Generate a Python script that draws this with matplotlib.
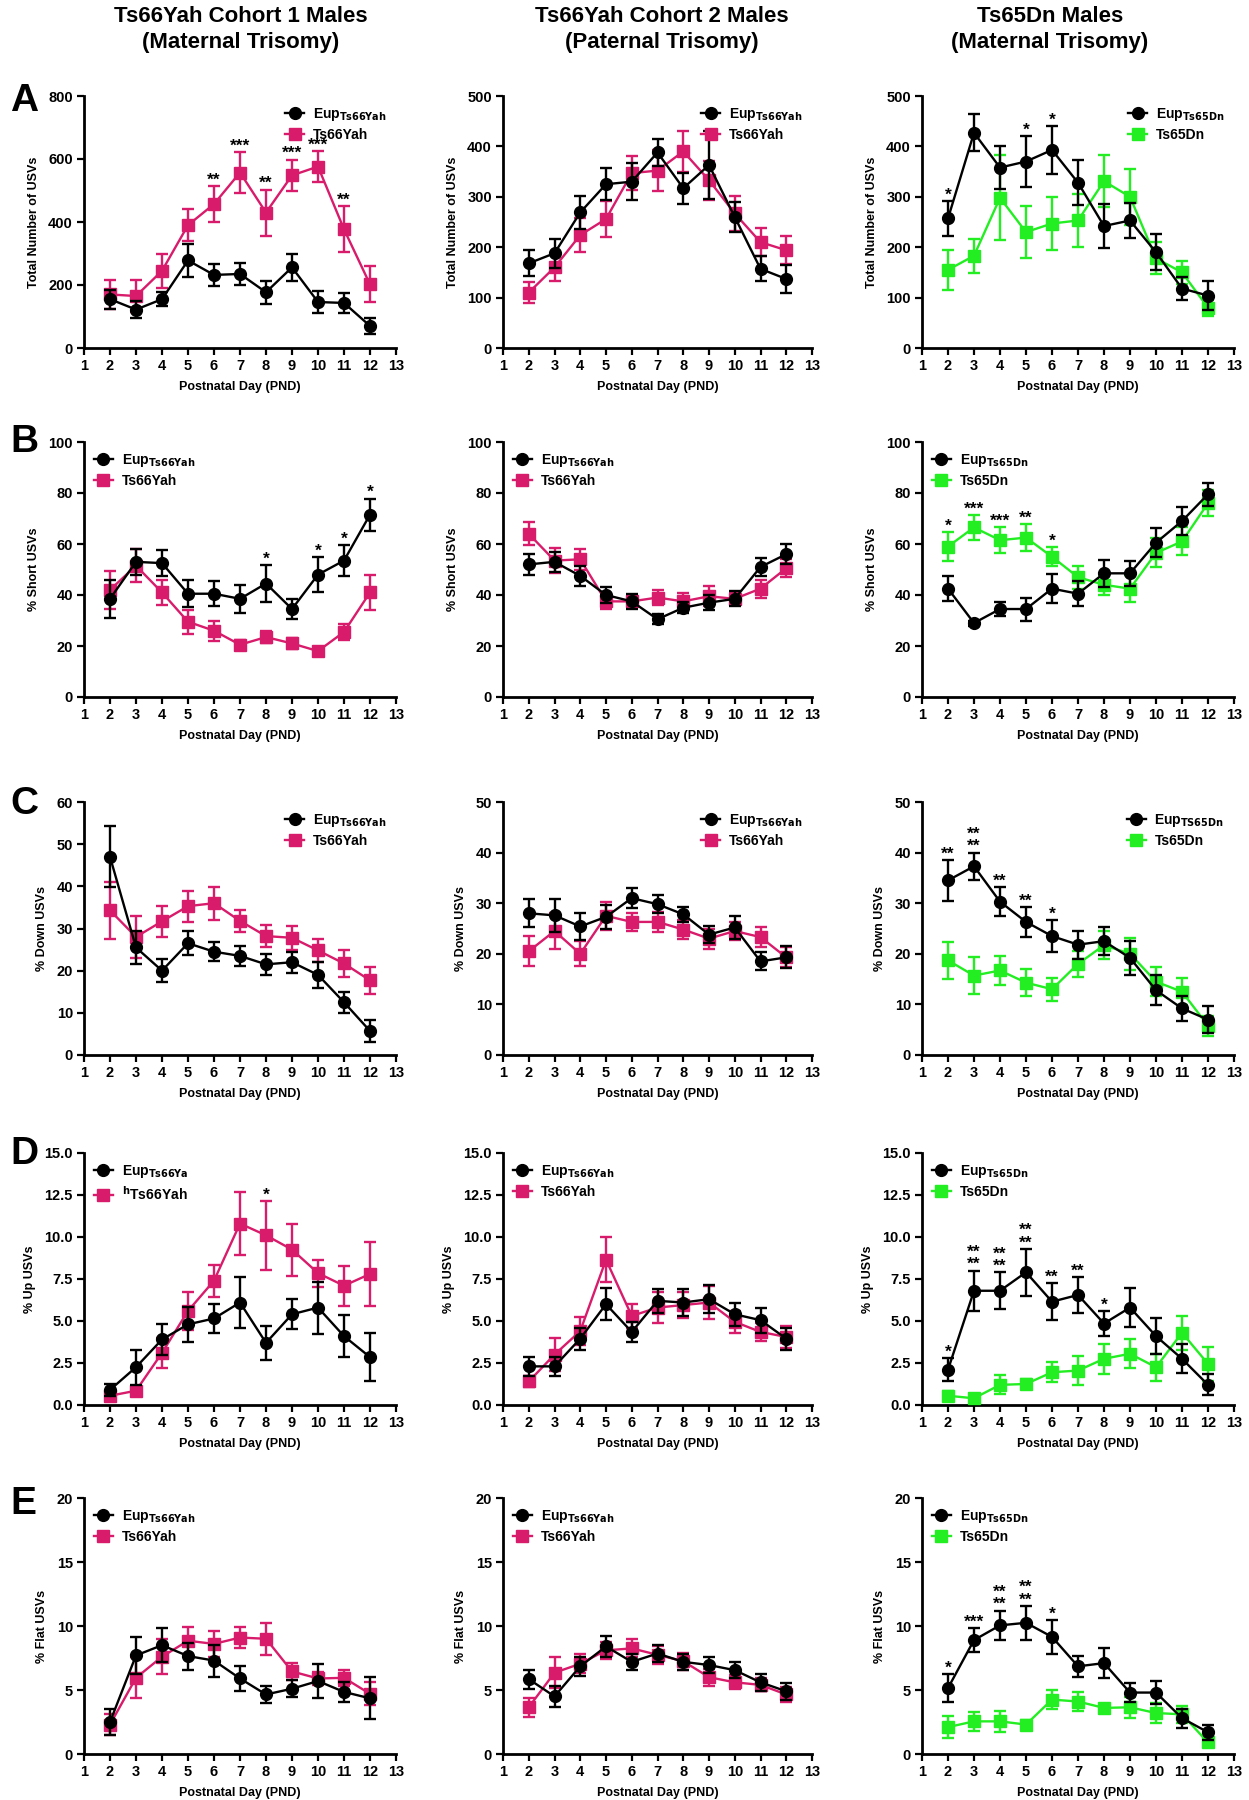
import matplotlib
matplotlib.use('Agg')
import matplotlib.pyplot as plt
from matplotlib.lines import Line2D
from matplotlib.ticker import FormatStrFormatter

plt.rcParams['font.family'] = ['Liberation Sans Narrow', 'Liberation Sans', 'DejaVu Sans']
plt.rcParams['font.weight'] = 'bold'
plt.rcParams['mathtext.fontset'] = 'custom'
plt.rcParams['mathtext.rm'] = 'Liberation Sans Narrow:bold'
plt.rcParams['mathtext.bf'] = 'Liberation Sans Narrow:bold'
plt.rcParams['mathtext.it'] = 'Liberation Sans Narrow:bold'

# ---------------- data ----------------
days = [2, 3, 4, 5, 6, 7, 8, 9, 10, 11, 12]
xticks = list(range(1, 14))

col_titles = ["Ts66Yah Cohort 1 Males\n(Maternal Trisomy)",
              "Ts66Yah Cohort 2 Males\n(Paternal Trisomy)",
              "Ts65Dn Males\n(Maternal Trisomy)"]
row_letters = ["A", "B", "C", "D", "E"]
ylabels = ["Total Number of USVs", "% Short USVs", "% Down USVs", "% Up USVs", "% Flat USVs"]
xlabel = "Postnatal Day (PND)"

# Row A: total number of USVs
a1_eup = [155, 122, 155, 278, 232, 235, 177, 256, 146, 143, 70]
a1_eup_err = [30, 27, 23, 52, 34, 35, 37, 43, 34, 33, 26]
a1_ts = [170, 165, 245, 390, 457, 557, 430, 548, 576, 377, 202]
a1_ts_err = [47, 52, 55, 50, 58, 65, 73, 50, 48, 73, 57]
a1_star_days = [6, 7, 8, 9, 10, 11]
a1_star_text = ["**", "***", "**", "***", "***", "**"]

a2_eup = [168, 188, 269, 325, 330, 388, 317, 363, 260, 157, 137]
a2_eup_err = [26, 29, 33, 32, 37, 26, 31, 68, 30, 25, 27]
a2_ts = [110, 160, 224, 256, 347, 352, 390, 333, 267, 210, 194]
a2_ts_err = [21, 28, 33, 36, 33, 40, 41, 39, 34, 28, 28]

a3_eup = [257, 427, 358, 370, 393, 328, 242, 253, 190, 118, 104]
a3_eup_err = [35, 37, 43, 50, 48, 45, 44, 34, 36, 22, 29]
a3_ts = [155, 183, 298, 230, 247, 253, 331, 300, 178, 150, 80]
a3_ts_err = [39, 34, 84, 52, 52, 52, 52, 55, 32, 23, 16]
a3_star_days = [2, 5, 6]
a3_star_text = ["*", "*", "*"]

# Row B: % short USVs
b1_eup = [38.5, 53, 52.5, 40.5, 40.5, 38.5, 44.5, 34.5, 48, 53.5, 71.5]
b1_eup_err = [7.5, 5, 5, 5.3, 4.8, 5.5, 7.3, 4, 7, 6, 6.3]
b1_ts = [42, 51.5, 41, 29.5, 26, 20.5, 23.5, 21, 18, 25.5, 41]
b1_ts_err = [7.3, 6.5, 5, 4.8, 4, 2, 2.5, 2, 1.5, 3.3, 6.8]
b1_star_days = [8, 10, 11, 12]
b1_star_text = ["*", "*", "*", "*"]

b2_eup = [52, 53, 47.5, 40, 37.5, 30.5, 35, 37, 38.5, 51, 56]
b2_eup_err = [4, 4, 4, 3.2, 3, 2, 2.2, 3, 3, 3.5, 4]
b2_ts = [64, 53.5, 54, 37.5, 37.5, 39, 37.5, 39.5, 38.5, 42.5, 50.5]
b2_ts_err = [4.5, 4.8, 4, 3, 2.5, 2.8, 3.2, 4, 2.5, 3.5, 3.5]

b3_eup = [42.5, 29, 34.5, 34.5, 42.5, 40.5, 48.5, 48.5, 60.5, 69, 79.5]
b3_eup_err = [5, 1, 2.8, 4.5, 5.7, 5, 5.3, 5, 5.7, 5.5, 4.5]
b3_ts = [59, 66.5, 61.5, 62.5, 55, 47, 44, 42.5, 56.5, 61, 76]
b3_ts_err = [5.7, 5, 5, 5.2, 3.8, 4.5, 4, 5.2, 5.7, 5.5, 5]
b3_star_days = [2, 3, 4, 5, 6]
b3_star_text = ["*", "***", "***", "**", "*"]

# Row C: % down USVs
c1_eup = [47, 25.5, 20, 26.5, 24.5, 23.5, 21.5, 22, 19, 12.5, 5.7]
c1_eup_err = [7.2, 4, 2.8, 2.8, 2.3, 2.3, 2.5, 2.5, 3, 2.5, 2.5]
c1_ts = [34.3, 28, 31.7, 35.3, 36, 31.8, 28.2, 27.8, 24.8, 21.7, 17.7]
c1_ts_err = [6.8, 5, 3.7, 3.7, 3.9, 2.7, 2.7, 2.8, 2.8, 3.2, 3.2]

c2_eup = [28, 27.6, 25.4, 27.3, 31, 29.8, 27.8, 23.8, 25.2, 18.5, 19.3]
c2_eup_err = [2.8, 3.3, 2.6, 2.3, 2, 1.8, 1.5, 1.6, 2.2, 1.8, 2.2]
c2_ts = [20.5, 24.5, 20, 27.5, 26.3, 26.3, 24.8, 23, 24.5, 23.3, 19.3]
c2_ts_err = [3, 3.5, 2.5, 2.8, 1.8, 2, 1.8, 2, 1.8, 2, 2]

c3_eup = [34.5, 37.3, 30.3, 26.3, 23.5, 21.8, 22.5, 19.2, 12.8, 9.2, 7]
c3_eup_err = [4, 2.7, 2.9, 2.9, 3.2, 2.8, 2.8, 3.4, 3, 2.5, 2.7]
c3_ts = [18.7, 15.7, 16.7, 14.3, 13, 18, 21.7, 20, 14.5, 12.5, 5.8]
c3_ts_err = [3.6, 3.6, 2.9, 2.6, 2.3, 2.5, 2.8, 3.2, 2.9, 2.7, 2]
c3_star_days = [2, 3, 4, 5, 6]
c3_star_text = ["**", "**\n**", "**", "**", "*"]

# Row D: % up USVs
d1_eup = [0.9, 2.25, 3.9, 4.8, 5.15, 6.1, 3.7, 5.4, 5.8, 4.1, 2.85]
d1_eup_err = [0.35, 1.05, 0.9, 1.05, 0.85, 1.5, 1.0, 0.9, 1.55, 1.25, 1.45]
d1_ts = [0.55, 0.85, 3.1, 5.6, 7.4, 10.8, 10.1, 9.25, 7.85, 7.1, 7.8]
d1_ts_err = [0.18, 0.25, 0.9, 1.15, 0.95, 1.9, 2.05, 1.55, 0.8, 1.2, 1.9]
d1_star_days = [8]
d1_star_text = ["*"]

d2_eup = [2.3, 2.3, 3.95, 6.0, 4.35, 6.2, 6.1, 6.3, 5.4, 5.05, 3.95]
d2_eup_err = [0.55, 0.55, 0.65, 0.95, 0.58, 0.7, 0.8, 0.85, 0.7, 0.75, 0.65]
d2_ts = [1.4, 3.0, 4.4, 8.65, 5.3, 5.8, 5.95, 6.1, 4.95, 4.35, 4.05]
d2_ts_err = [0.3, 1.0, 0.83, 1.35, 0.73, 0.9, 0.75, 1.0, 0.65, 0.55, 0.65]

d3_eup = [2.1, 6.8, 6.8, 7.9, 6.15, 6.55, 4.85, 5.8, 4.1, 2.75, 1.2]
d3_eup_err = [0.67, 1.2, 1.1, 1.4, 1.1, 1.05, 0.75, 1.17, 1.05, 0.87, 0.62]
d3_ts = [0.55, 0.4, 1.2, 1.25, 1.95, 2.05, 2.75, 3.05, 2.25, 4.3, 2.45]
d3_ts_err = [0.28, 0.25, 0.57, 0.3, 0.6, 0.85, 0.9, 0.87, 0.8, 1.0, 1.0]
d3_star_days = [2, 3, 4, 5, 6, 7, 8]
d3_star_text = ["*", "**\n**", "**\n**", "**\n**", "**", "**", "*"]

# Row E: % flat USVs
e1_eup = [2.5, 7.7, 8.5, 7.65, 7.3, 5.9, 4.65, 5.1, 5.7, 4.85, 4.35]
e1_eup_err = [1.05, 1.45, 1.35, 1.05, 1.25, 1.0, 0.7, 0.65, 1.3, 0.8, 1.65]
e1_ts = [2.3, 5.95, 7.6, 8.85, 8.6, 9.1, 9.0, 6.45, 5.9, 5.95, 4.7]
e1_ts_err = [0.8, 1.6, 1.35, 1.05, 1.0, 0.83, 1.25, 0.65, 0.53, 0.65, 0.9]

e2_eup = [5.85, 4.5, 6.85, 8.4, 7.2, 7.85, 7.2, 6.95, 6.55, 5.6, 4.9]
e2_eup_err = [0.75, 0.8, 0.75, 0.85, 0.65, 0.65, 0.6, 0.65, 0.65, 0.67, 0.65]
e2_ts = [3.65, 6.35, 7.05, 8.1, 8.25, 7.75, 7.25, 6.0, 5.6, 5.4, 4.65]
e2_ts_err = [0.75, 1.2, 0.75, 0.65, 0.7, 0.7, 0.65, 0.65, 0.55, 0.5, 0.55]

e3_eup = [5.15, 8.9, 10.05, 10.25, 9.15, 6.85, 7.1, 4.8, 4.8, 2.8, 1.7]
e3_eup_err = [1.07, 0.95, 1.15, 1.32, 1.32, 0.8, 1.15, 0.75, 0.88, 0.75, 0.57]
e3_ts = [2.1, 2.55, 2.55, 2.3, 4.25, 4.1, 3.6, 3.65, 3.2, 3.1, 0.9]
e3_ts_err = [0.83, 0.77, 0.83, 0.35, 0.72, 0.72, 0.25, 0.8, 0.75, 0.65, 0.23]
e3_star_days = [2, 3, 4, 5, 6]
e3_star_text = ["*", "***", "**\n**", "**\n**", "*"]

yticks_a1 = [0, 200, 400, 600, 800]
yticks_a23 = [0, 100, 200, 300, 400, 500]
yticks_b = [0, 20, 40, 60, 80, 100]
yticks_c1 = [0, 10, 20, 30, 40, 50, 60]
yticks_c23 = [0, 10, 20, 30, 40, 50]
yticks_d = [0, 2.5, 5.0, 7.5, 10.0, 12.5, 15.0]
yticks_e = [0, 5, 10, 15, 20]

# ---------------- styling ----------------
MAGENTA = '#D81B6A'
GREEN = '#22EE22'
W, H = 1249, 1800

fig = plt.figure(figsize=(W / 100, H / 100), dpi=100)

col_px = [(84, 312), (503, 309), (922, 312)]
row_px = [(96, 348), (442, 697), (802, 1055), (1153, 1405), (1498, 1754)]


def make_ax(r, c):
    l, w = col_px[c]
    t, b = row_px[r]
    return fig.add_axes([l / W, 1 - b / H, w / W, (b - t) / H])


def panel(ax, eup, eup_err, ts, ts_err, tcolor, yticks, ylabel, eup_label, ts_label,
          legend_loc, star_days=None, star_text=None, yfmt=None):
    ax.errorbar(days, ts, yerr=ts_err, color=tcolor, marker='s', ms=8, lw=1.7,
                elinewidth=1.7, capsize=4.5, capthick=1.7, zorder=3, clip_on=False)
    ax.errorbar(days, eup, yerr=eup_err, color='black', marker='o', ms=8.5, lw=1.7,
                elinewidth=1.7, capsize=4.5, capthick=1.7, zorder=4, clip_on=False)
    ax.set_xlim(1, 13)
    ax.set_ylim(yticks[0], yticks[-1])
    ax.set_xticks(xticks)
    ax.set_yticks(yticks)
    if yfmt:
        ax.yaxis.set_major_formatter(FormatStrFormatter(yfmt))
    for s in ['top', 'right']:
        ax.spines[s].set_visible(False)
    for s in ['left', 'bottom']:
        ax.spines[s].set_linewidth(2.0)
    ax.tick_params(direction='out', length=5, width=1.6, labelsize=10.5, pad=3)
    for lab in ax.get_xticklabels() + ax.get_yticklabels():
        lab.set_fontweight('bold')
    ax.set_xlabel(xlabel, fontsize=9, fontweight='bold', labelpad=6)
    ax.set_ylabel(ylabel, fontsize=9, fontweight='bold', labelpad=6)
    handles = [Line2D([], [], color='black', marker='o', ms=8.5, lw=1.7),
               Line2D([], [], color=tcolor, marker='s', ms=8, lw=1.7)]
    ax.legend(handles, [eup_label, ts_label], loc=legend_loc, frameon=False,
              handlelength=1.4, handletextpad=0.6, labelspacing=0.35,
              borderaxespad=0.3, prop={'weight': 'bold', 'size': 10})
    if star_days:
        for d, txt in zip(star_days, star_text):
            i = days.index(d)
            top = max(eup[i] + eup_err[i], ts[i] + ts_err[i])
            for k, line in enumerate(reversed(txt.split('\n'))):
                ax.annotate(line, (d, top), xytext=(0, 1 + k * 9), textcoords='offset points',
                            ha='center', va='baseline', fontsize=12.5, fontweight='bold',
                            annotation_clip=False)


eup66 = r'Eup$_{\mathbf{Ts66Yah}}$'
eup65 = r'Eup$_{\mathbf{Ts65Dn}}$'

panel(make_ax(0, 0), a1_eup, a1_eup_err, a1_ts, a1_ts_err, MAGENTA, yticks_a1, ylabels[0],
      eup66, 'Ts66Yah', 'upper right', a1_star_days, a1_star_text)
panel(make_ax(0, 1), a2_eup, a2_eup_err, a2_ts, a2_ts_err, MAGENTA, yticks_a23, ylabels[0],
      eup66, 'Ts66Yah', 'upper right')
panel(make_ax(0, 2), a3_eup, a3_eup_err, a3_ts, a3_ts_err, GREEN, yticks_a23, ylabels[0],
      eup65, 'Ts65Dn', 'upper right', a3_star_days, a3_star_text)

panel(make_ax(1, 0), b1_eup, b1_eup_err, b1_ts, b1_ts_err, MAGENTA, yticks_b, ylabels[1],
      eup66, 'Ts66Yah', 'upper left', b1_star_days, b1_star_text)
panel(make_ax(1, 1), b2_eup, b2_eup_err, b2_ts, b2_ts_err, MAGENTA, yticks_b, ylabels[1],
      eup66, 'Ts66Yah', 'upper left')
panel(make_ax(1, 2), b3_eup, b3_eup_err, b3_ts, b3_ts_err, GREEN, yticks_b, ylabels[1],
      eup65, 'Ts65Dn', 'upper left', b3_star_days, b3_star_text)

panel(make_ax(2, 0), c1_eup, c1_eup_err, c1_ts, c1_ts_err, MAGENTA, yticks_c1, ylabels[2],
      eup66, 'Ts66Yah', 'upper right')
panel(make_ax(2, 1), c2_eup, c2_eup_err, c2_ts, c2_ts_err, MAGENTA, yticks_c23, ylabels[2],
      eup66, 'Ts66Yah', 'upper right')
panel(make_ax(2, 2), c3_eup, c3_eup_err, c3_ts, c3_ts_err, GREEN, yticks_c23, ylabels[2],
      r'Eup$_{\mathbf{TS65Dn}}$', 'Ts65Dn', 'upper right', c3_star_days, c3_star_text)

panel(make_ax(3, 0), d1_eup, d1_eup_err, d1_ts, d1_ts_err, MAGENTA, yticks_d, ylabels[3],
      r'Eup$_{\mathbf{Ts66Ya}}$', r'$^{\mathbf{h}}$Ts66Yah', 'upper left', d1_star_days, d1_star_text,
      yfmt='%.1f')
panel(make_ax(3, 1), d2_eup, d2_eup_err, d2_ts, d2_ts_err, MAGENTA, yticks_d, ylabels[3],
      eup66, 'Ts66Yah', 'upper left', yfmt='%.1f')
panel(make_ax(3, 2), d3_eup, d3_eup_err, d3_ts, d3_ts_err, GREEN, yticks_d, ylabels[3],
      eup65, 'Ts65Dn', 'upper left', d3_star_days, d3_star_text, yfmt='%.1f')

panel(make_ax(4, 0), e1_eup, e1_eup_err, e1_ts, e1_ts_err, MAGENTA, yticks_e, ylabels[4],
      eup66, 'Ts66Yah', 'upper left')
panel(make_ax(4, 1), e2_eup, e2_eup_err, e2_ts, e2_ts_err, MAGENTA, yticks_e, ylabels[4],
      eup66, 'Ts66Yah', 'upper left')
panel(make_ax(4, 2), e3_eup, e3_eup_err, e3_ts, e3_ts_err, GREEN, yticks_e, ylabels[4],
      eup65, 'Ts65Dn', 'upper left', e3_star_days, e3_star_text)

# column titles
title_x = [241, 662, 1050]
for x, t in zip(title_x, col_titles):
    fig.text(x / W, 1 - 6 / H, t, ha='center', va='top', fontsize=16, fontweight='bold',
             linespacing=1.3)

# panel letters
letter_y = [101, 442, 804, 1154, 1504]
for y, L in zip(letter_y, row_letters):
    fig.text(10 / W, 1 - y / H, L, ha='left', va='center', fontsize=28, fontweight='bold',
             family=['Liberation Sans', 'DejaVu Sans'])

fig.savefig('out.png', dpi=100, facecolor='white')
